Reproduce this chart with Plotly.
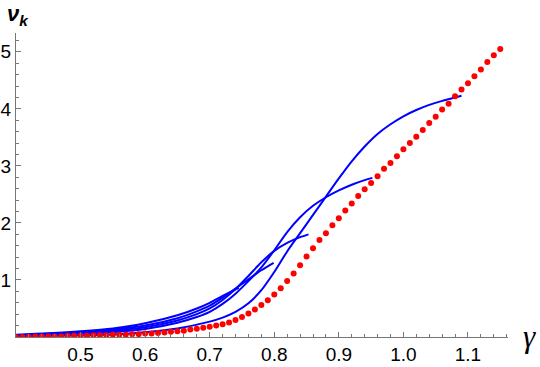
import plotly.graph_objects as go

# red dotted reference curve, gamma step 0.01 from 0.40 to 1.15
red_gamma = [round(0.40 + 0.01 * i, 2) for i in range(76)]
red_nu = [0.00, 0.00, 0.00, 0.01, 0.01, 0.01, 0.01, 0.01, 0.02, 0.02,
          0.02, 0.02, 0.03, 0.03, 0.03, 0.04, 0.04, 0.04, 0.05, 0.05,
          0.06, 0.06, 0.07, 0.08, 0.09, 0.10, 0.11, 0.13, 0.145, 0.16,
          0.18, 0.20, 0.225, 0.255, 0.30, 0.35, 0.41, 0.48, 0.56, 0.645,
          0.745, 0.855, 0.98, 1.115, 1.26, 1.41, 1.555, 1.70, 1.82, 1.96,
          2.08, 2.22, 2.34, 2.47, 2.59, 2.70, 2.82, 2.95, 3.05, 3.17,
          3.29, 3.40, 3.51, 3.63, 3.75, 3.86, 3.99, 4.09, 4.22, 4.34,
          4.45, 4.57, 4.69, 4.82, 4.94, 5.05]

# blue curves
g1 = [0.40, 0.45, 0.50, 0.55, 0.60, 0.65, 0.70, 0.72, 0.74, 0.76, 0.78, 0.80,
      0.82, 0.84, 0.86, 0.88, 0.90, 0.92, 0.94, 0.96, 0.98, 1.00, 1.02, 1.04,
      1.06, 1.08, 1.09]
v1 = [0.01, 0.02, 0.03, 0.045, 0.085, 0.15, 0.27, 0.34, 0.44, 0.59, 0.82, 1.14,
      1.50, 1.82, 2.14, 2.46, 2.78, 3.08, 3.34, 3.56, 3.73, 3.87, 3.98, 4.07,
      4.14, 4.20, 4.23]

g2 = [0.40, 0.45, 0.50, 0.55, 0.60, 0.65, 0.68, 0.70, 0.72, 0.74, 0.76, 0.78,
      0.80, 0.82, 0.84, 0.86, 0.88, 0.90, 0.92, 0.94, 0.952]
v2 = [0.02, 0.035, 0.055, 0.085, 0.14, 0.25, 0.35, 0.44, 0.58, 0.76, 0.98, 1.22,
      1.52, 1.84, 2.10, 2.30, 2.45, 2.57, 2.67, 2.75, 2.79]

g3 = [0.40, 0.45, 0.50, 0.55, 0.60, 0.65, 0.68, 0.70, 0.72, 0.74, 0.76, 0.78,
      0.80, 0.82, 0.84, 0.853]
v3 = [0.025, 0.045, 0.07, 0.11, 0.17, 0.29, 0.40, 0.50, 0.65, 0.84, 1.07, 1.31,
      1.51, 1.65, 1.75, 1.80]

g4 = [0.40, 0.45, 0.50, 0.55, 0.60, 0.65, 0.68, 0.70, 0.72, 0.74, 0.76, 0.78,
      0.799]
v4 = [0.03, 0.055, 0.085, 0.13, 0.20, 0.33, 0.45, 0.55, 0.69, 0.85, 1.01, 1.17,
      1.30]

g5 = [0.40, 0.45, 0.50, 0.55, 0.60, 0.65, 0.68, 0.70, 0.72, 0.745]
v5 = [0.04, 0.065, 0.10, 0.15, 0.24, 0.38, 0.50, 0.60, 0.72, 0.86]

blue_curves = [(g1, v1), (g2, v2), (g3, v3), (g4, v4), (g5, v5)]

x_ticks = [0.5, 0.6, 0.7, 0.8, 0.9, 1.0, 1.1]
y_ticks = [1, 2, 3, 4, 5]

fig = go.Figure()

for gx, vy in blue_curves:
    fig.add_trace(go.Scatter(x=gx, y=vy, mode='lines',
                             line=dict(color='rgb(0,0,255)', width=2, shape='spline',
                                       smoothing=0.8),
                             showlegend=False))

fig.add_trace(go.Scatter(x=red_gamma, y=red_nu, mode='markers',
                         marker=dict(color='rgb(255,0,0)', size=6),
                         showlegend=False))

axis_common = dict(showgrid=False, zeroline=False, showline=True, automargin=False,
                   linecolor='#777777', linewidth=1, ticks='inside',
                   tickcolor='#777777', ticklen=5,
                   tickfont=dict(family='Liberation Sans, Arial', size=19, color='black'))

fig.update_xaxes(range=[0.4, 1.162], tickvals=x_ticks, tickformat='.1f',
                 ticklabelstandoff=0,
                 minor=dict(ticks='inside', dtick=0.02, tick0=0.4, ticklen=3,
                            tickcolor='#777777'),
                 **axis_common)
fig.update_yaxes(range=[0, 5.33], tickvals=y_ticks,
                 minor=dict(ticks='inside', dtick=0.2, tick0=0, ticklen=3,
                            tickcolor='#777777'),
                 **axis_common)

fig.add_annotation(x=1.0, xref='paper', xshift=21, y=0, yref='paper', yshift=1,
                   text='<i>γ</i>', showarrow=False, xanchor='center', yanchor='middle',
                   font=dict(family='Liberation Serif', size=31, color='black'))
fig.add_annotation(x=0, xref='paper', xshift=2, y=1, yref='paper', yshift=18,
                   text='<b><i>ν</i></b><sub><b><i>k</i></b></sub>', showarrow=False,
                   xanchor='center', yanchor='middle',
                   font=dict(family='Liberation Sans', size=22, color='black'))

fig.update_layout(width=540, height=367, plot_bgcolor='white', paper_bgcolor='white',
                  margin=dict(l=16, r=32, t=33, b=30))

fig.write_html("out.html", config={'displayModeBar': False},
               post_script="document.body.style.margin='0px';")
